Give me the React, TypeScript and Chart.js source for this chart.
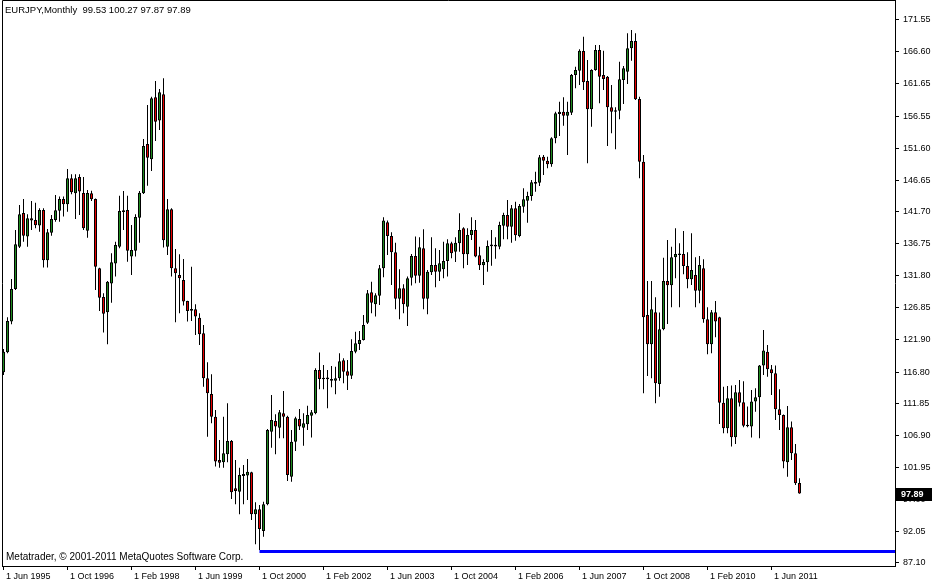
import React, { useEffect, useRef } from 'react';
import { Chart, registerables } from 'chart.js';

Chart.register(...registerables);

// Monthly EURJPY candles, Jun 1995 .. Jan 2012 (index 0 = Jun 1995)
const opens = [
  116.76, 119.87, 124.64, 129.72, 136.30, 141.54, 137.86, 140.71, 140.45, 139.57,
  142.00, 134.18, 138.48, 140.45, 141.90, 143.72, 142.89, 146.93, 144.60, 147.14,
  144.65, 138.79, 144.60, 143.72, 132.93, 128.47, 126.09, 130.55, 133.66, 136.30,
  141.85, 142.00, 134.75, 135.68, 140.81, 144.60, 152.27, 149.88, 159.53, 155.90,
  159.99, 136.30, 142.11, 132.93, 131.90, 131.12, 127.85, 126.50, 126.56, 125.26,
  122.82, 115.82, 113.39, 109.86, 103.12, 102.76, 104.00, 106.08, 98.72, 98.20,
  100.64, 100.69, 101.21, 94.67, 95.45, 92.08, 96.23, 107.53, 109.19, 108.15,
  110.38, 109.86, 100.53, 105.97, 109.50, 108.15, 108.67, 110.02, 110.38, 117.12,
  115.82, 115.82, 115.72, 115.46, 115.83, 118.62, 116.91, 116.24, 119.97, 121.17,
  121.79, 124.48, 129.20, 127.33, 128.68, 132.93, 140.09, 137.96, 135.42, 128.21,
  129.82, 126.97, 131.48, 134.85, 131.79, 136.04, 128.21, 132.31, 133.45, 132.41,
  132.78, 134.07, 136.82, 135.52, 136.82, 139.15, 135.11, 138.12, 138.89, 134.95,
  133.40, 133.87, 136.45, 136.56, 136.30, 139.56, 141.22, 139.41, 142.26, 137.96,
  142.52, 143.45, 144.18, 146.15, 146.25, 150.30, 149.67, 149.10, 153.15, 156.93,
  157.29, 156.67, 157.14, 163.00, 163.67, 166.73, 162.06, 157.66, 163.77, 166.88,
  163.00, 162.74, 157.97, 157.35, 157.45, 162.22, 163.51, 167.14, 168.28, 159.26,
  149.52, 125.68, 121.11, 126.09, 114.94, 123.45, 130.96, 130.29, 134.64, 135.16,
  135.16, 133.30, 131.22, 131.90, 129.46, 132.93, 125.00, 121.11, 126.09, 125.31,
  112.04, 108.05, 112.72, 106.65, 113.65, 112.09, 108.46, 108.31, 112.20, 112.87,
  117.80, 119.97, 117.23, 116.60, 111.00, 110.12, 102.76, 108.20, 104.16, 99.53,
];
const highs = [
  120.39, 125.31, 131.27, 138.89, 142.78, 143.72, 141.33, 143.40, 143.14, 142.26,
  142.26, 139.05, 141.23, 144.34, 144.08, 144.08, 148.38, 147.55, 147.55, 147.55,
  147.14, 145.11, 145.01, 143.80, 133.00, 129.04, 130.96, 135.27, 137.08, 144.23,
  144.96, 144.23, 139.67, 141.33, 144.96, 153.05, 158.33, 159.63, 162.07, 160.82,
  162.48, 143.72, 142.26, 135.94, 135.11, 134.38, 127.90, 133.19, 127.33, 125.93,
  124.12, 118.31, 116.45, 110.90, 106.23, 109.86, 111.94, 106.23, 103.12, 101.93,
  102.35, 103.28, 101.30, 96.54, 96.13, 96.64, 107.95, 113.23, 110.23, 110.90,
  113.86, 110.02, 107.79, 109.86, 111.06, 110.38, 111.57, 110.90, 117.38, 119.82,
  117.90, 117.12, 117.74, 117.64, 119.71, 118.94, 118.68, 121.89, 123.08, 123.19,
  125.68, 129.56, 130.86, 129.04, 133.45, 140.86, 140.35, 138.53, 136.92, 132.78,
  130.44, 131.64, 135.16, 137.86, 137.75, 139.00, 132.67, 137.75, 136.04, 135.78,
  137.08, 137.44, 137.08, 137.75, 141.49, 139.31, 139.15, 140.86, 140.45, 136.30,
  134.33, 137.24, 138.89, 137.75, 140.19, 141.59, 143.56, 142.78, 143.30, 142.93,
  145.37, 144.85, 146.67, 147.96, 150.55, 150.55, 150.30, 153.30, 157.29, 158.85,
  159.52, 158.85, 163.15, 164.29, 166.99, 168.96, 165.33, 163.88, 167.66, 167.66,
  166.78, 162.84, 161.44, 157.97, 165.07, 164.40, 169.48, 169.99, 169.48, 159.63,
  150.55, 130.96, 130.96, 128.42, 126.04, 134.59, 137.34, 136.30, 139.15, 136.82,
  138.74, 135.42, 138.38, 134.64, 134.85, 134.33, 126.87, 126.45, 127.85, 125.40,
  114.53, 114.63, 114.69, 114.79, 115.57, 115.36, 111.42, 114.01, 114.27, 117.90,
  123.34, 121.01, 117.90, 117.80, 114.12, 110.20, 111.52, 109.09, 105.61, 100.27,
];
const lows = [
  116.34, 119.71, 124.22, 129.56, 136.10, 137.08, 136.30, 138.89, 139.15, 138.63,
  133.04, 133.04, 138.01, 140.19, 140.19, 140.97, 141.74, 144.44, 140.61, 141.23,
  138.89, 137.70, 143.40, 129.56, 126.30, 122.93, 121.11, 127.59, 131.64, 136.04,
  138.89, 133.97, 131.90, 134.75, 136.92, 144.50, 145.79, 148.07, 152.74, 154.45,
  136.15, 135.01, 131.64, 124.53, 125.93, 127.13, 124.64, 124.74, 122.56, 121.01,
  114.53, 106.75, 108.83, 102.09, 101.93, 101.93, 102.76, 97.06, 96.23, 94.67,
  96.23, 96.90, 93.79, 90.01, 89.13, 91.20, 96.10, 105.04, 104.00, 106.49,
  106.49, 99.86, 99.75, 104.52, 107.79, 105.35, 107.79, 106.60, 110.23, 114.11,
  114.11, 111.16, 114.43, 113.34, 115.46, 115.05, 114.01, 115.72, 119.71, 120.23,
  121.70, 124.28, 125.93, 125.42, 127.23, 131.53, 135.01, 130.34, 126.56, 125.00,
  125.93, 123.96, 130.24, 130.60, 130.70, 126.56, 125.78, 131.90, 129.98, 130.96,
  131.38, 131.64, 134.49, 133.92, 135.52, 132.93, 133.45, 137.34, 134.64, 132.67,
  130.34, 132.41, 133.34, 134.43, 135.88, 137.44, 137.44, 136.92, 137.23, 137.75,
  141.59, 140.03, 143.45, 144.85, 145.73, 147.44, 148.48, 148.74, 152.37, 153.51,
  155.12, 150.55, 156.78, 160.92, 161.44, 160.66, 149.26, 154.96, 163.67, 158.59,
  160.66, 151.95, 153.92, 151.44, 156.10, 158.49, 161.60, 165.23, 159.11, 146.93,
  113.49, 116.19, 115.83, 111.94, 112.97, 123.30, 124.28, 126.87, 131.38, 126.87,
  132.00, 129.82, 130.34, 126.87, 127.49, 124.48, 119.56, 119.71, 122.20, 108.72,
  107.27, 107.27, 105.20, 105.61, 111.42, 108.20, 108.20, 106.60, 110.64, 106.49,
  116.34, 116.08, 113.23, 109.35, 107.79, 101.83, 100.53, 103.12, 99.24, 97.87,
];
const closes = [
  119.97, 124.74, 129.72, 136.67, 141.33, 138.01, 140.71, 140.35, 139.62, 142.00,
  134.18, 138.53, 140.61, 141.95, 143.72, 142.89, 146.93, 144.75, 146.93, 144.86,
  139.15, 144.65, 143.66, 133.19, 128.37, 125.88, 130.86, 133.87, 136.56, 141.85,
  141.80, 135.68, 135.78, 140.92, 144.70, 151.96, 150.14, 159.37, 155.74, 160.30,
  137.29, 142.11, 132.93, 132.15, 131.38, 127.75, 126.30, 126.45, 125.42, 122.67,
  115.82, 113.49, 109.86, 102.87, 102.71, 104.16, 106.08, 98.09, 98.30, 100.79,
  100.95, 101.31, 94.67, 95.45, 92.39, 96.23, 107.79, 109.35, 108.31, 110.54,
  109.86, 100.79, 105.97, 109.60, 108.31, 108.83, 110.12, 110.54, 117.12, 115.72,
  115.78, 115.80, 115.46, 115.83, 118.47, 116.86, 116.24, 120.08, 121.27, 121.79,
  124.12, 129.04, 127.59, 128.73, 132.93, 140.35, 137.96, 135.42, 128.21, 129.82,
  127.33, 131.38, 134.85, 131.79, 136.20, 128.21, 132.41, 133.45, 132.41, 133.71,
  134.07, 136.82, 135.27, 136.92, 138.89, 135.11, 138.12, 138.89, 134.75, 133.40,
  133.92, 136.41, 136.56, 136.35, 139.67, 141.22, 139.41, 142.26, 138.06, 142.62,
  143.66, 144.18, 146.30, 146.30, 150.19, 149.67, 149.10, 153.15, 157.03, 157.29,
  156.67, 157.29, 163.00, 163.77, 166.78, 161.86, 157.66, 163.77, 166.88, 162.74,
  162.37, 157.97, 157.29, 157.45, 162.32, 164.03, 167.14, 168.28, 159.21, 149.52,
  125.31, 121.11, 126.56, 115.05, 123.45, 130.96, 130.29, 134.64, 135.16, 135.06,
  133.30, 131.22, 132.67, 129.46, 133.45, 125.00, 121.11, 126.09, 124.64, 112.04,
  108.05, 112.72, 106.65, 113.65, 112.04, 108.46, 108.50, 112.20, 112.87, 117.80,
  120.13, 117.23, 116.60, 111.00, 110.12, 102.87, 108.20, 104.16, 99.50, 97.89,
];

const xTickIndex = [0, 16, 32, 48, 64, 80, 96, 112, 128, 144, 160, 176, 192];
const xTickLabels = [
  '1 Jun 1995', '1 Oct 1996', '1 Feb 1998', '1 Jun 1999', '1 Oct 2000', '1 Feb 2002',
  '1 Jun 2003', '1 Oct 2004', '1 Feb 2006', '1 Jun 2007', '1 Oct 2008', '1 Feb 2010', '1 Jun 2011',
];
const yTickValues = [
  171.55, 166.6, 161.65, 156.55, 151.6, 146.65, 141.7, 136.75, 131.8,
  126.85, 121.9, 116.8, 111.85, 106.9, 101.95, 97.0, 92.05, 87.1,
];
const supportLevel = 88.9;
const supportStartIndex = 64;
const symbolTitle = 'EURJPY,Monthly';
const copyrightText = 'Metatrader, \u00a9 2001-2011 MetaQuotes Software Corp.';

const UP = '#1f8b1f';
const DOWN = '#e80000';
const FONT = '"Liberation Sans", Arial, sans-serif';

export default function App() {
  const ref = useRef<HTMLCanvasElement>(null);

  useEffect(() => {
    document.body.style.margin = '0';
    const canvas = ref.current;
    if (!canvas) return;

    const xMin = -0.375;
    const xMax = 222.875;
    const yMin = 86.633;
    const yMax = 174.66;

    const wickData = opens.map((_, i) => ({ x: i, y: [lows[i], highs[i]] }));
    const bodyData = opens.map((o, i) => {
      let lo = Math.min(o, closes[i]);
      let hi = Math.max(o, closes[i]);
      if (hi - lo < 0.25) {
        const m = (hi + lo) / 2;
        lo = m - 0.125;
        hi = m + 0.125;
      }
      return { x: i, y: [lo, hi] };
    });
    const bodyColors = opens.map((o, i) => (closes[i] >= o ? UP : DOWN));

    const last = opens.length - 1;
    const lastClose = closes[last];

    const overlay = {
      id: 'mtOverlay',
      afterDraw(chart: any) {
        const ctx = chart.ctx;
        const area = chart.chartArea;
        const ys = chart.scales.y;
        ctx.save();
        ctx.strokeStyle = '#000';
        ctx.lineWidth = 1;
        ctx.beginPath();
        ctx.moveTo(area.left + 0.5, area.bottom);
        ctx.lineTo(area.left + 0.5, area.top + 0.5);
        ctx.lineTo(area.right, area.top + 0.5);
        ctx.stroke();
        ctx.fillStyle = '#000';
        ctx.textBaseline = 'middle';
        ctx.textAlign = 'left';
        ctx.font = '9.5px ' + FONT;
        const title = symbolTitle + '  ' + [opens[last], highs[last], lows[last], closes[last]].map((v) => v.toFixed(2)).join(' ');
        ctx.fillText(title, 5, 10);
        ctx.font = '10px ' + FONT;
        ctx.fillText(copyrightText, 6, 557);
        const py = Math.round(ys.getPixelForValue(lastClose));
        ctx.fillStyle = '#000';
        ctx.fillRect(area.right + 1, py - 6, 36, 13);
        ctx.fillStyle = '#fff';
        ctx.font = 'bold 9px ' + FONT;
        ctx.fillText(lastClose.toFixed(2), area.right + 6, py + 0.5);
        ctx.restore();
      },
    };

    const chart = new Chart(canvas, {
      type: 'bar',
      data: {
        datasets: [
          {
            type: 'line',
            data: [
              { x: supportStartIndex, y: supportLevel },
              { x: xMax, y: supportLevel },
            ],
            borderColor: '#0000ff',
            borderWidth: 3,
            pointRadius: 0,
            order: 0,
          } as any,
          {
            data: bodyData as any,
            backgroundColor: bodyColors,
            borderColor: '#000',
            borderWidth: 1,
            borderSkipped: false,
            barThickness: 3,
            grouped: false,
            inflateAmount: 0,
            order: 1,
          } as any,
          {
            data: wickData as any,
            backgroundColor: '#000',
            borderWidth: 0,
            barThickness: 1,
            grouped: false,
            inflateAmount: 0,
            order: 2,
          } as any,
        ],
      },
      options: {
        responsive: false,
        animation: false,
        events: [],
        layout: { padding: { left: 2, top: 0, right: 0, bottom: 0 } },
        plugins: { legend: { display: false }, tooltip: { enabled: false } },
        scales: {
          x: {
            type: 'linear',
            min: xMin,
            max: xMax,
            offset: false,
            position: 'bottom',
            grid: { display: true, drawOnChartArea: false, drawTicks: true, tickLength: 4, color: '#000', offset: false },
            border: { display: true, color: '#000', width: 1 },
            ticks: {
              autoSkip: false,
              maxRotation: 0,
              minRotation: 0,
              align: 'start',
              padding: 1,
              color: '#000',
              font: { family: FONT, size: 9 },
              callback: (v: any) => {
                const k = xTickIndex.indexOf(Number(v));
                return k >= 0 ? ' ' + xTickLabels[k] : '';
              },
            },
            afterBuildTicks: (scale: any) => {
              scale.ticks = xTickIndex.map((v) => ({ value: v }));
            },
            afterFit: (scale: any) => {
              scale.height = 17;
              scale.paddingLeft = 0;
              scale.paddingRight = 0;
            },
          } as any,
          y: {
            type: 'linear',
            position: 'right',
            min: yMin,
            max: yMax,
            grid: { display: true, drawOnChartArea: false, drawTicks: true, tickLength: 4, color: '#000' },
            border: { display: true, color: '#000', width: 1 },
            ticks: {
              padding: 4,
              color: '#000',
              font: { family: FONT, size: 9 },
              callback: (v: any) => Number(v).toFixed(2),
            },
            afterBuildTicks: (scale: any) => {
              scale.ticks = yTickValues.map((v) => ({ value: v }));
            },
            afterFit: (scale: any) => {
              scale.width = 40;
              scale.paddingTop = 0;
              scale.paddingBottom = 0;
            },
          } as any,
        },
      },
      plugins: [overlay],
    });

    return () => chart.destroy();
  }, []);

  return (
    <div style={{ width: 935, height: 583, background: '#fff' }}>
      <canvas ref={ref} width={935} height={583} style={{ display: 'block' }} />
    </div>
  );
}
